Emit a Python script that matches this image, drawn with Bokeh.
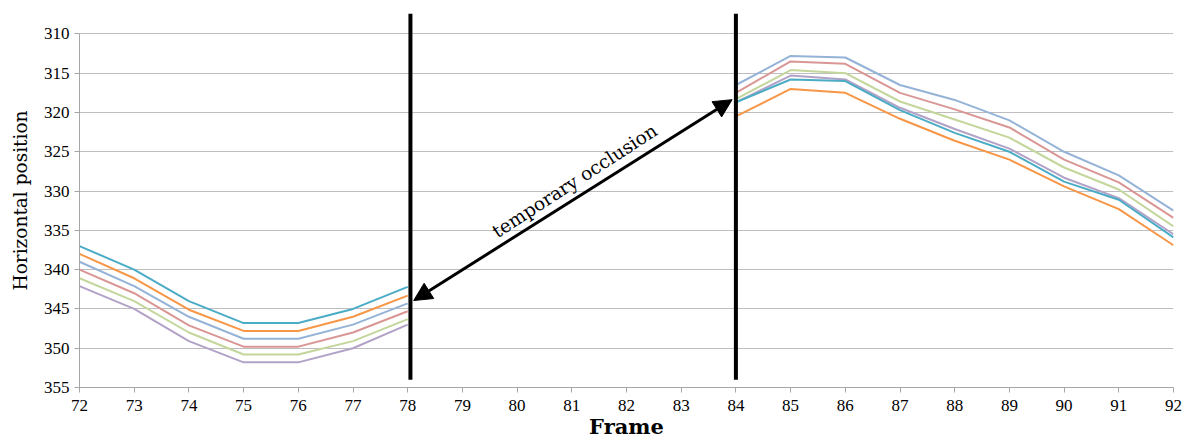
import math
from bokeh.plotting import figure
from bokeh.models import Range1d, FixedTicker, Arrow, NormalHead
from bokeh.core.properties import value
from bokeh.embed import file_html
from bokeh.resources import INLINE

NAN = float("nan")

frames = list(range(72, 93))
gap = [NAN] * 5  # frames 79-83: temporary occlusion

cyan_vals = [337.0, 340.0, 344.0, 346.8, 346.8, 345.0, 342.2] + gap + \
            [318.7, 315.8, 316.0, 319.7, 322.6, 325.0, 328.8, 331.1, 335.9]
orange_vals = [338.0, 341.1, 345.1, 347.8, 347.8, 346.0, 343.3] + gap + \
              [320.5, 317.0, 317.5, 320.8, 323.6, 326.0, 329.4, 332.3, 336.9]
lightblue_vals = [339.0, 342.1, 346.0, 348.8, 348.8, 347.0, 344.3] + gap + \
                 [316.5, 312.8, 313.0, 316.5, 318.4, 321.0, 325.0, 328.0, 332.5]
pink_vals = [340.0, 343.0, 347.1, 349.8, 349.8, 348.0, 345.3] + gap + \
            [317.5, 313.5, 313.8, 317.5, 319.6, 321.9, 326.0, 328.9, 333.4]
green_vals = [341.1, 344.0, 348.0, 350.8, 350.8, 349.1, 346.3] + gap + \
             [318.3, 314.6, 315.0, 318.6, 320.9, 323.2, 327.0, 329.8, 334.5]
purple_vals = [342.1, 345.0, 349.1, 351.8, 351.8, 350.0, 347.0] + gap + \
              [318.7, 315.3, 315.8, 319.4, 322.1, 324.6, 328.3, 330.9, 335.5]

series = [
    (purple_vals, "#B3A2C7"),
    (green_vals, "#C3D69B"),
    (pink_vals, "#D99694"),
    (lightblue_vals, "#95B3D7"),
    (orange_vals, "#F79646"),
    (cyan_vals, "#4BACC6"),
]

y_ticks = [310, 315, 320, 325, 330, 335, 340, 345, 350, 355]
x_ticks = frames

# occlusion markers
occl_start, occl_end = 78.05, 84.0
marker_top, marker_bottom = 307.4, 354.0
arrow_start = (78.11, 343.93)
arrow_end = (83.93, 318.37)
label_pos = (81.05, 328.7)
label_text = "temporary occlusion"

p = figure(width=1184, height=441, output_backend="svg", toolbar_location=None,
           x_range=Range1d(72, 92), y_range=Range1d(355, 307.4),
           min_border_left=79, min_border_right=11, min_border_top=13,
           min_border_bottom=52)
p.outline_line_color = None
p.background_fill_color = "white"
p.border_fill_color = "white"

p.xgrid.visible = False
p.ygrid.ticker = FixedTicker(ticks=y_ticks)
p.ygrid.grid_line_color = "#BEBEBE"
p.ygrid.grid_line_width = 1

p.yaxis.ticker = FixedTicker(ticks=y_ticks)
p.xaxis.ticker = FixedTicker(ticks=x_ticks)
p.yaxis.bounds = (310, 355)
for ax in (p.xaxis, p.yaxis):
    ax.axis_line_color = "#A6A6A6"
    ax.major_tick_line_color = "#A6A6A6"
    ax.minor_tick_line_color = None
    ax.major_tick_out = 5
    ax.major_tick_in = 0
    ax.major_label_text_font = "Liberation Serif"
    ax.major_label_text_font_size = "17px"
    ax.major_label_text_color = "black"
    ax.axis_label_text_color = "black"

p.yaxis.axis_label = "Horizontal position"
p.yaxis.axis_label_text_font = "DejaVu Serif"
p.yaxis.axis_label_text_font_style = "normal"
p.yaxis.axis_label_text_font_size = "18.5px"
p.yaxis.axis_label_standoff = 10

p.xaxis.axis_label = "Frame"
p.xaxis.axis_label_text_font = "DejaVu Serif"
p.xaxis.axis_label_text_font_style = "bold"
p.xaxis.axis_label_text_font_size = "21px"
p.xaxis.axis_label_standoff = 0
p.xaxis.major_label_standoff = 7

for vals, color in series:
    p.line(frames, vals, line_color=color, line_width=2)

p.segment(x0=[occl_start, occl_end], y0=[marker_top, marker_top],
          x1=[occl_start, occl_end], y1=[marker_bottom, marker_bottom],
          line_color="black", line_width=4)

p.add_layout(Arrow(start=NormalHead(size=18, fill_color="black", line_color="black"),
                   end=NormalHead(size=18, fill_color="black", line_color="black"),
                   x_start=arrow_start[0], y_start=arrow_start[1],
                   x_end=arrow_end[0], y_end=arrow_end[1],
                   line_color="black", line_width=3))

p.text(x=[label_pos[0]], y=[label_pos[1]], text=[label_text],
       angle=math.radians(33), text_align="center", text_baseline="middle",
       text_font=value("DejaVu Serif"), text_font_size="18.5px", text_color="black")

open("out.html", "w").write(file_html(p, INLINE))
